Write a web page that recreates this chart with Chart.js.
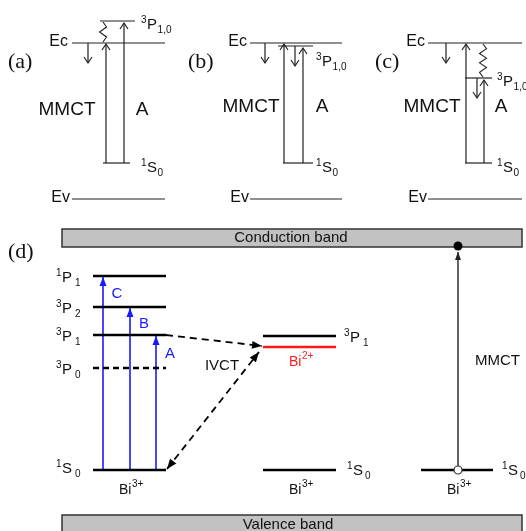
<!DOCTYPE html>
<html>
<head>
<meta charset="utf-8">
<script src="https://cdn.jsdelivr.net/npm/chart.js@4.4.0/dist/chart.umd.min.js"></script>
<style>
  html, body { margin: 0; padding: 0; background: #fff; overflow: hidden; }
</style>
</head>
<body>
<canvas id="chart" width="526" height="531"></canvas>
<script>
// ---- data: level heights in picture units (0 = top of figure) ----
// panels (a)-(c)
const smallTags = ['(a)', '(b)', '(c)'];
const ecLevel = [43, 43, 43];
const evLevel = [199, 199, 199];
const s0Level = [163, 163, 163];
const p3Level = [21, 46, 78];

// panel (d)
const bi3Terms = ['1P1', '3P2', '3P1', '3P0', '1S0'];
const bi3Level = [276, 307, 335, 368, 470];
const bandNames = ['C', 'B', 'A'];
const bandTarget = ['1P1', '3P2', '3P1'];
const bi2Level = [336, 347];   // neighbour 3P1, Bi2+ level
const neighbourS0 = 470;
const cbEdge = [229, 247];
const vbEdge = [515, 545];

// ---- layout (x positions) ----
const smallLayout = [
  { band: [72, 165], p: [100, 135], s: [103, 130], down: 88, downP: null, mmct: 106, a: 124,
    wave: 103, tagX: 8, ecX: 68, mmctX: 67, aX: 142, termX: 141, pY: 24 },
  { band: [250, 342], p: [278, 313], s: [283, 313], down: 265, downP: 295, mmct: 284, a: 303,
    wave: null, tagX: 188, ecX: 247, mmctX: 251, aX: 322, termX: 316, pY: 61 },
  { band: [428, 522], p: [465, 492], s: [465, 492], down: 446, downP: 477, mmct: 466, a: 484,
    wave: 483, tagX: 375, ecX: 425, mmctX: 432, aX: 501, termX: 497, pY: 81 }
];
const leftLevelX = [93, 166];
const bandArrowX = [103, 130, 156];
const bandLabelPos = [[117, 294], [144, 324], [170, 354]];
const midLevelX = [263, 336];
const rightLevelX = [421, 493];
const mmctX = 458;

const BLUE = '#1a1aff', RED = '#ff1a1a', INK = '#111';
const SANS = '"Liberation Sans", Arial, sans-serif';

const datasets = [];
function seg(x1, y1, x2, y2, o) {
  o = o || {};
  datasets.push({
    data: [{ x: x1, y: y1 }, { x: x2, y: y2 }],
    showLine: true,
    borderColor: o.color || '#222',
    borderWidth: o.width || 1.2,
    borderDash: o.dash || [],
    pointRadius: 0,
    arrow: o.arrow || null,
    head: o.head || 'open',
    headLen: o.headLen || 6,
    headHalf: o.headHalf || 4
  });
}

const waves = [];

// panels (a)-(c)
smallLayout.forEach(function(L, i) {
  seg(L.band[0], ecLevel[i], L.band[1], ecLevel[i]);
  seg(L.band[0], evLevel[i], L.band[1], evLevel[i]);
  seg(L.p[0], p3Level[i], L.p[1], p3Level[i]);
  seg(L.s[0], s0Level[i], L.s[1], s0Level[i]);
  seg(L.down, ecLevel[i], L.down, ecLevel[i] + 20, { arrow: 'end' });
  if (L.downP) seg(L.downP, p3Level[i], L.downP, p3Level[i] + 20, { arrow: 'end' });
  seg(L.mmct, s0Level[i], L.mmct, ecLevel[i] + 1, { arrow: 'end' });
  seg(L.a, s0Level[i], L.a, p3Level[i] + 2, { arrow: 'end' });
  if (L.wave) waves.push([L.wave, Math.min(p3Level[i], ecLevel[i]) + 1, Math.max(p3Level[i], ecLevel[i]) - 1]);
});

// panel (d): Bi3+ levels
const s0 = bi3Level[bi3Terms.indexOf('1S0')];
bi3Terms.forEach(function(t, i) {
  seg(leftLevelX[0], bi3Level[i], leftLevelX[1], bi3Level[i],
      { width: 2.5, color: '#000', dash: t === '3P0' ? [6, 4] : [] });
});
bandNames.forEach(function(b, i) {
  const top = bi3Level[bi3Terms.indexOf(bandTarget[i])];
  seg(bandArrowX[i], s0, bandArrowX[i], top + 1,
      { color: BLUE, width: 1.6, arrow: 'end', head: 'filled', headLen: 9, headHalf: 3.5 });
});
// neighbour ion
seg(midLevelX[0], bi2Level[0], midLevelX[1], bi2Level[0], { width: 2.5, color: '#000' });
seg(midLevelX[0], bi2Level[1], midLevelX[1], bi2Level[1], { width: 2.5, color: RED });
seg(midLevelX[0], neighbourS0, midLevelX[1], neighbourS0, { width: 2.5, color: '#000' });
// IVCT
const p31 = bi3Level[bi3Terms.indexOf('3P1')];
seg(leftLevelX[1], p31, midLevelX[0] - 1, bi2Level[1] - 1,
    { dash: [7, 5], width: 1.8, color: '#000', arrow: 'end', head: 'filled', headLen: 10, headHalf: 4 });
seg(leftLevelX[1] + 1, s0 - 1, midLevelX[0] - 4, bi2Level[1] + 5,
    { dash: [7, 5], width: 1.8, color: '#000', arrow: 'both', head: 'filled', headLen: 10, headHalf: 4 });
// MMCT to conduction band
seg(rightLevelX[0], neighbourS0, rightLevelX[1], neighbourS0, { width: 2.5, color: '#000' });
seg(mmctX, neighbourS0 - 4, mmctX, cbEdge[1] + 5,
    { width: 1.4, color: '#222', arrow: 'end', head: 'filled', headLen: 8, headHalf: 3 });

// ---- text ----
const texts = [];
smallLayout.forEach(function(L, i) {
  texts.push({ t: smallTags[i], x: L.tagX, y: 62, size: 22, font: '"Liberation Serif", serif', align: 'left' });
  texts.push({ t: 'Ec', x: L.ecX, y: ecLevel[i] - 1, size: 16, align: 'right' });
  texts.push({ t: 'Ev', x: L.ecX + 2, y: evLevel[i] - 1, size: 16, align: 'right' });
  texts.push({ t: 'MMCT', x: L.mmctX, y: i === 0 ? 110 : 107, size: 19, align: 'center' });
  texts.push({ t: 'A', x: L.aX, y: i === 0 ? 110 : 107, size: 19, align: 'center' });
});
const terms = [];
smallLayout.forEach(function(L, i) {
  terms.push({ pre: '3', main: 'P', sub: '1,0', x: L.termX, y: L.pY, size: 15 });
  terms.push({ pre: '1', main: 'S', sub: '0', x: L.termX, y: s0Level[i] + 4, size: 15 });
});
bi3Terms.forEach(function(t, i) {
  terms.push({ pre: t[0], main: t[1], sub: t[2], x: 56, y: bi3Level[i] + (t === '1S0' ? -2 : 1), size: 15, gap: 3 });
});
terms.push({ pre: '3', main: 'P', sub: '1', x: 344, y: bi2Level[0] + 1, size: 15, gap: 3 });
terms.push({ pre: '1', main: 'S', sub: '0', x: 347, y: neighbourS0, size: 15, gap: 2 });
terms.push({ pre: '1', main: 'S', sub: '0', x: 502, y: neighbourS0, size: 15, gap: 2 });
terms.push({ main: 'Bi', post: '3+', x: 119, y: 489, size: 14 });
terms.push({ main: 'Bi', post: '3+', x: 289, y: 489, size: 14 });
terms.push({ main: 'Bi', post: '3+', x: 447, y: 489, size: 14 });
terms.push({ main: 'Bi', post: '2+', x: 289, y: 361, size: 14, color: RED });
texts.push({ t: '(d)', x: 8, y: 252, size: 22, font: '"Liberation Serif", serif', align: 'left' });
bandNames.forEach(function(b, i) {
  texts.push({ t: b, x: bandLabelPos[i][0], y: bandLabelPos[i][1], size: 15, align: 'center', color: BLUE });
});
texts.push({ t: 'IVCT', x: 222, y: 366, size: 15, align: 'center' });
texts.push({ t: 'MMCT', x: 475, y: 361, size: 15, align: 'left' });
texts.push({ t: 'Conduction band', x: 291, y: (cbEdge[0] + cbEdge[1]) / 2, size: 15, align: 'center' });
texts.push({ t: 'Valence band', x: 288, y: 525, size: 15, align: 'center' });

function head(ctx, x1, y1, x2, y2, style, len, half, color) {
  const a = Math.atan2(y2 - y1, x2 - x1);
  const bx = x2 - len * Math.cos(a), by = y2 - len * Math.sin(a);
  const nx = -Math.sin(a) * half, ny = Math.cos(a) * half;
  ctx.save();
  ctx.setLineDash([]);
  ctx.strokeStyle = color; ctx.fillStyle = color; ctx.lineWidth = 1.2;
  ctx.beginPath();
  if (style === 'filled') {
    ctx.moveTo(x2, y2); ctx.lineTo(bx + nx, by + ny); ctx.lineTo(bx - nx, by - ny); ctx.closePath(); ctx.fill();
  } else {
    ctx.moveTo(bx + nx, by + ny); ctx.lineTo(x2, y2); ctx.lineTo(bx - nx, by - ny); ctx.stroke();
  }
  ctx.restore();
}

function drawTerm(ctx, o) {
  const size = o.size, sm = Math.round(size * 0.68);
  const base = o.y + size * 0.36;
  let cx = o.x;
  ctx.fillStyle = o.color || INK;
  ctx.textAlign = 'left';
  ctx.textBaseline = 'alphabetic';
  if (o.pre) {
    ctx.font = sm + 'px ' + SANS;
    ctx.fillText(o.pre, cx, base - size * 0.45);
    cx += ctx.measureText(o.pre).width + 0.5;
  }
  ctx.font = size + 'px ' + SANS;
  ctx.fillText(o.main, cx, base);
  cx += ctx.measureText(o.main).width;
  ctx.font = sm + 'px ' + SANS;
  if (o.sub) ctx.fillText(o.sub, cx + (o.gap || 0.5), base + size * 0.22);
  if (o.post) ctx.fillText(o.post, cx + 0.5, base - size * 0.5);
}

const diagramPlugin = {
  id: 'diagram',
  beforeDatasetsDraw: function(chart) {
    const ctx = chart.ctx, X = chart.scales.x, Y = chart.scales.y;
    [cbEdge, vbEdge].forEach(function(e) {
      const x0 = X.getPixelForValue(62), x1 = X.getPixelForValue(522);
      const y0 = Y.getPixelForValue(e[0]), y1 = Y.getPixelForValue(e[1]);
      ctx.save();
      ctx.fillStyle = '#c2c2c2'; ctx.strokeStyle = '#333'; ctx.lineWidth = 1.5;
      ctx.fillRect(x0, y0, x1 - x0, y1 - y0);
      ctx.strokeRect(x0, y0, x1 - x0, y1 - y0);
      ctx.restore();
    });
  },
  afterDatasetsDraw: function(chart) {
    const ctx = chart.ctx, X = chart.scales.x, Y = chart.scales.y;
    chart.data.datasets.forEach(function(ds) {
      if (!ds.arrow) return;
      const p = ds.data;
      const x1 = X.getPixelForValue(p[0].x), y1 = Y.getPixelForValue(p[0].y);
      const x2 = X.getPixelForValue(p[1].x), y2 = Y.getPixelForValue(p[1].y);
      head(ctx, x1, y1, x2, y2, ds.head, ds.headLen, ds.headHalf, ds.borderColor);
      if (ds.arrow === 'both') head(ctx, x2, y2, x1, y1, ds.head, ds.headLen, ds.headHalf, ds.borderColor);
    });
    // wavy relaxation lines
    ctx.save();
    ctx.strokeStyle = '#222'; ctx.lineWidth = 1.1;
    waves.forEach(function(w) {
      const x = X.getPixelForValue(w[0]);
      const ya = Y.getPixelForValue(w[1]), yb = Y.getPixelForValue(w[2]);
      const n = Math.max(4, Math.round((yb - ya) / 5));
      ctx.beginPath();
      ctx.moveTo(x, ya);
      for (let k = 1; k < n; k++) {
        ctx.lineTo(x + (k % 2 ? 3.5 : -3.5), ya + (yb - ya) * k / n);
      }
      ctx.lineTo(x, yb);
      ctx.stroke();
    });
    ctx.restore();
    // MMCT electron / hole
    ctx.save();
    ctx.fillStyle = '#000';
    ctx.beginPath();
    ctx.arc(X.getPixelForValue(mmctX), Y.getPixelForValue(cbEdge[1] - 1), 4.5, 0, Math.PI * 2);
    ctx.fill();
    ctx.fillStyle = '#fff'; ctx.strokeStyle = '#333'; ctx.lineWidth = 1.2;
    ctx.beginPath();
    ctx.arc(X.getPixelForValue(mmctX), Y.getPixelForValue(neighbourS0), 4, 0, Math.PI * 2);
    ctx.fill(); ctx.stroke();
    ctx.restore();
    // labels
    ctx.save();
    texts.forEach(function(o) {
      ctx.font = o.size + 'px ' + (o.font || SANS);
      ctx.fillStyle = o.color || INK;
      ctx.textAlign = o.align;
      ctx.textBaseline = 'middle';
      ctx.fillText(o.t, X.getPixelForValue(o.x), Y.getPixelForValue(o.y));
    });
    terms.forEach(function(o) {
      drawTerm(ctx, Object.assign({}, o, { x: X.getPixelForValue(o.x), y: Y.getPixelForValue(o.y) }));
    });
    ctx.restore();
  }
};

new Chart(document.getElementById('chart'), {
  type: 'scatter',
  data: { datasets: datasets },
  options: {
    responsive: false,
    animation: false,
    devicePixelRatio: 1,
    layout: { padding: 0 },
    plugins: { legend: { display: false }, tooltip: { enabled: false } },
    scales: {
      x: { type: 'linear', min: 0, max: 526, display: false },
      y: { type: 'linear', min: 0, max: 531, reverse: true, display: false }
    }
  },
  plugins: [diagramPlugin]
});
</script>
</body>
</html>
